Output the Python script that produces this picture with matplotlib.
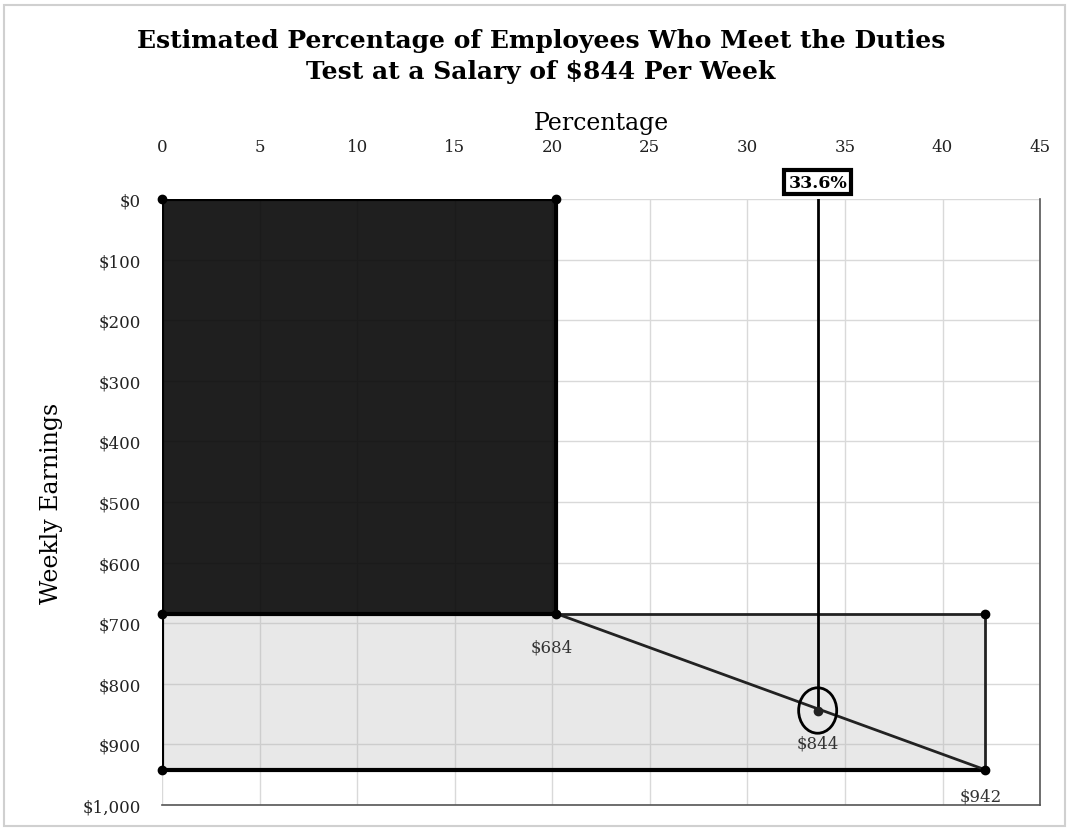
import numpy as np
import matplotlib.pyplot as plt
from matplotlib.patches import Rectangle, Ellipse

# data
pct_low = 20.2        # share of employees below $684
pct_high = 42.2       # share below $942
pct_mark = 33.6       # share at $844
salary_low = 684
salary_mark = 844
salary_high = 942
x_ticks = [0, 5, 10, 15, 20, 25, 30, 35, 40, 45]
y_ticks = [0, 100, 200, 300, 400, 500, 600, 700, 800, 900, 1000]
y_labels = ["$0", "$100", "$200", "$300", "$400", "$500", "$600", "$700", "$800", "$900", "$1,000"]

plt.rcParams['font.family'] = ['DejaVu Serif']

fig = plt.figure(figsize=(10.69, 8.29), dpi=100)
ax = fig.add_axes([0.1515, 0.0277, 0.8215, 0.731])

ax.set_xlim(0, 45)
ax.set_ylim(1000, 0)
ax.xaxis.tick_top()
ax.xaxis.set_label_position('top')
ax.set_xticks(x_ticks)
ax.set_yticks(y_ticks)
ax.set_yticklabels(y_labels)
ax.tick_params(length=0, labelsize=12, colors='#222222')
ax.tick_params(axis='x', pad=32)
ax.tick_params(axis='y', pad=15)
ax.grid(True, color='#d9d9d9', lw=1)
ax.set_axisbelow(True)
for s in ['top', 'left']:
    ax.spines[s].set_visible(False)
for s in ['right', 'bottom']:
    ax.spines[s].set_color('#555555')
    ax.spines[s].set_linewidth(1.2)

ax.set_xlabel("Percentage", fontsize=17, labelpad=6)
ax.set_ylabel("Weekly Earnings", fontsize=17, labelpad=14)

# light rectangle (684 - 942)
ax.add_patch(Rectangle((0, salary_low), pct_high, salary_high - salary_low,
                       facecolor='#b0b0b0', alpha=0.29, edgecolor='none', zorder=2))
ax.add_patch(Rectangle((0, salary_low), pct_high, salary_high - salary_low,
                       facecolor='none', edgecolor='#222222', lw=2, zorder=2))
# dark rectangle (0 - 684)
ax.add_patch(Rectangle((0, 0), pct_low, salary_low,
                       facecolor='black', alpha=0.88, edgecolor='none', zorder=3))
ax.add_patch(Rectangle((0, 0), pct_low, salary_low,
                       facecolor='none', edgecolor='black', lw=3, zorder=3))
ax.plot([0, pct_high], [salary_high, salary_high], color='black', lw=3, zorder=3)
ax.plot([0, 0], [salary_low, salary_high], color='black', lw=3, zorder=3)

# slope line
ax.plot([pct_low, pct_high], [salary_low, salary_high], color='#222222', lw=2, zorder=4)
# vertical marker line
ax.plot([pct_mark, pct_mark], [0, salary_mark], color='black', lw=2, zorder=4)

# corner dots
ax.plot([0, pct_low, 0, pct_low, pct_high, 0, pct_high],
        [0, 0, salary_low, salary_low, salary_low, salary_high, salary_high],
        'o', color='black', ms=6, zorder=5, clip_on=False)
ax.plot([pct_mark], [salary_mark], 'o', color='#222222', ms=6, zorder=5)
ax.add_patch(Ellipse((pct_mark, salary_mark), 1.95, 75, facecolor='none',
                     edgecolor='black', lw=2, zorder=5))

# labels
ax.text(pct_low - 0.25, salary_low + 55, "$684", ha='center', va='center', fontsize=12, color='#333333')
ax.text(pct_mark, salary_mark + 53, "$844", ha='center', va='center', fontsize=12, color='#333333')
ax.text(pct_high - 0.25, salary_high + 43, "$942", ha='center', va='center', fontsize=12, color='#333333')
ax.text(pct_mark, -28, f"{pct_mark}%", ha='center', va='center', fontsize=12.5,
        fontweight='bold', zorder=6, clip_on=False,
        bbox=dict(boxstyle='square,pad=0.22', facecolor='white', edgecolor='black', lw=3))

fig.suptitle("Estimated Percentage of Employees Who Meet the Duties\nTest at a Salary of $844 Per Week",
             x=0.506, y=0.965, va='top', fontsize=18, fontweight='bold',
             linespacing=1.35)

# figure border
fig.add_artist(Rectangle((0.004, 0.003), 0.992, 0.99, transform=fig.transFigure,
                         facecolor='none', edgecolor='#d0d0d0', lw=1.5))

fig.savefig("out.png", dpi=100)
